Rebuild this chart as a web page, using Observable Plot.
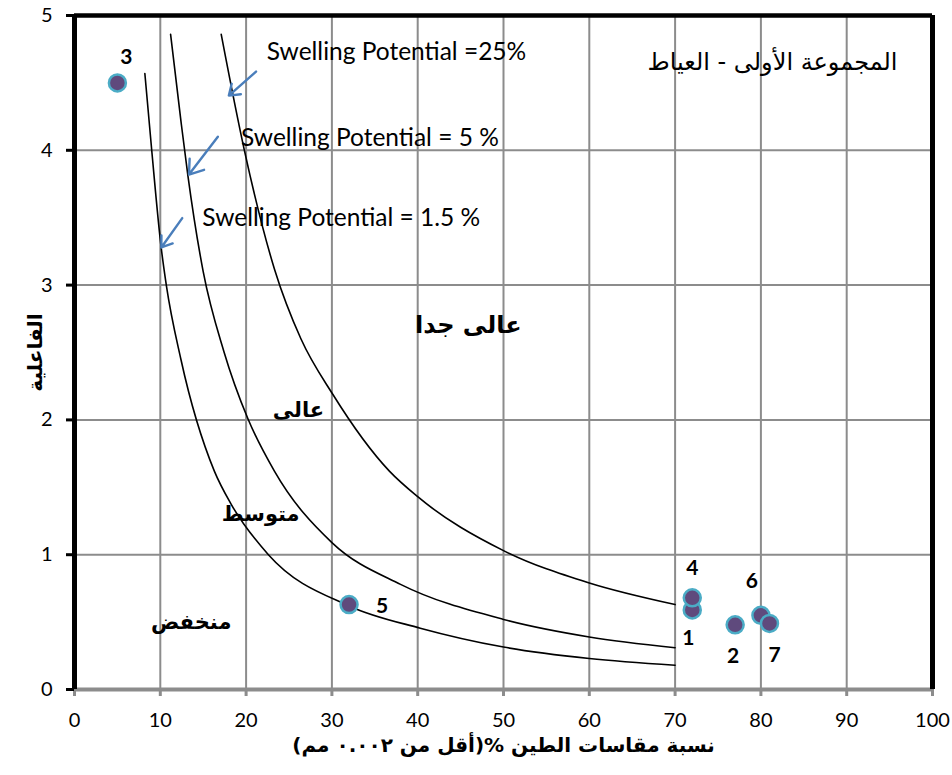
<!DOCTYPE html>
<html><head><meta charset="utf-8">
<script src="https://cdn.jsdelivr.net/npm/d3@7"></script>
<script src="https://cdn.jsdelivr.net/npm/@observablehq/plot@0.6"></script>
<style>body{margin:0;background:#fff} #chart{width:952px;height:775px}</style>
</head><body><div id="chart"></div>
<script>
// ---- data ----
const xTicks = [0,10,20,30,40,50,60,70,80,90,100];
const yTicks = [0,1,2,3,4,5];

// Swelling potential boundary curves (clay %, activity)
const sp25X = [17.1, 19.8, 23.3, 26.4, 30.1, 36.7, 40, 50, 60, 70];
const sp25Y = [4.86, 4.0, 3.12, 2.6, 2.19, 1.62, 1.43, 1.03, 0.79, 0.63];
const sp5X  = [11.2, 12.4, 13.2, 15.0, 17.4, 20.2, 23.3, 30, 38, 50, 60, 70];
const sp5Y  = [4.86, 4.22, 3.82, 3.1, 2.51, 2.01, 1.62, 1.09, 0.78, 0.52, 0.39, 0.31];
const sp15X = [8.2, 9.0, 10.1, 10.7, 12.4, 16.3, 18.3, 22.6, 32, 40.3, 50, 60, 70];
const sp15Y = [4.57, 4.0, 3.28, 3.0, 2.45, 1.62, 1.37, 1.0, 0.62, 0.455, 0.315, 0.23, 0.18];

// samples
const pointIds = ["1","2","3","4","5","6","7"];
const clayPct  = [72, 77, 5, 72, 32, 80, 81];
const activity = [0.59, 0.48, 4.5, 0.68, 0.63, 0.55, 0.49];

// annotations
const curveLabels = ["Swelling Potential =25%", "Swelling Potential = 5 %", "Swelling Potential = 1.5 %"];
const curveLabelX = [22.4, 19.4, 14.9];
const curveLabelY = [4.73, 4.09, 3.50];
const arrowX1 = [21.16, 16.71, 12.56];
const arrowY1 = [4.584, 4.10, 3.497];
const arrowX2 = [17.99, 13.34, 10.12];
const arrowY2 = [4.406, 3.82, 3.279];
const zoneNames = ["عالى جدا", "عالى", "متوسط", "منخفض"];
const zoneX = [45.9, 26.1, 21.7, 13.6];
const zoneY = [2.70, 2.07, 1.30, 0.50];
const titleText = "المجموعة الأولى - العياط";
const xTitle = "نسبة مقاسات الطين %(أقل من ٠.٠٠٢ مم)";
const yTitle = "الفاعلية";

// ---- build ----
const LAT = "Lato, Carlito, Calibri, sans-serif";
const AR = "'DejaVu Sans', sans-serif";
const curves = [["25", sp25X, sp25Y], ["5", sp5X, sp5Y], ["1.5", sp15X, sp15Y]];
const curveRows = curves.flatMap(([name, xs, ys]) => xs.map((x, i) => ({curve: name, x, y: ys[i]})));
const pts = pointIds.map((id, i) => ({id, x: clayPct[i], y: activity[i]}));
const labelOffset = {"1":[-4,28],"2":[-2,31],"3":[9,-26],"4":[0,-30],"5":[33,2],"6":[-9,-34],"7":[5,32]};
const idx3 = [0,1,2];

const chart = Plot.plot({
  width: 952, height: 775,
  marginLeft: 74, marginRight: 20, marginTop: 15, marginBottom: 86,
  style: {fontFamily: LAT, background: "#fff", color: "#000"},
  x: {domain: [0, 100]},
  y: {domain: [0, 5]},
  marks: [
    Plot.gridX(xTicks, {stroke: "#8c8c8c", strokeOpacity: 1, strokeWidth: 2}),
    Plot.gridY(yTicks, {stroke: "#8c8c8c", strokeOpacity: 1, strokeWidth: 2}),
    Plot.axisX(xTicks, {tickSize: 7, tickPadding: 16, stroke: "#8c8c8c", strokeWidth: 3, fontSize: 20, fill: "#000", label: null, tickFormat: d => String(d)}),
    Plot.axisY(yTicks, {tickSize: 8, tickPadding: 14, stroke: "#000", strokeWidth: 3, fontSize: 20, fill: "#000", label: null, tickFormat: d => String(d)}),
    Plot.ruleY([0], {stroke: "#8c8c8c", strokeWidth: 4}),
    Plot.ruleY([5], {stroke: "#000", strokeWidth: 4.5}),
    Plot.ruleX([0], {stroke: "#000", strokeWidth: 5}),
    Plot.ruleX([100], {stroke: "#000", strokeWidth: 5}),
    Plot.line(curveRows, {x: "x", y: "y", z: "curve", stroke: "#000", strokeWidth: 1.6, curve: "monotone-x"}),
    Plot.arrow(idx3, {x1: i => arrowX1[i], y1: i => arrowY1[i], x2: i => arrowX2[i], y2: i => arrowY2[i],
      stroke: "#4a7ebb", strokeWidth: 2.4, headLength: 13, headAngle: 70}),
    Plot.text(idx3, {x: i => curveLabelX[i], y: i => curveLabelY[i], text: i => curveLabels[i],
      textAnchor: "start", fontSize: 24.5, fill: "#000", fontFamily: LAT}),
    Plot.text(zoneNames, {x: (d, i) => zoneX[i], y: (d, i) => zoneY[i], text: d => d,
      fontSize: (d, i) => i === 0 ? 24 : 21, fontWeight: "bold", fill: "#000", fontFamily: AR}),
    Plot.dot(pts, {x: "x", y: "y", r: 8.5, fill: "#5f4a7d", stroke: "#4bacc6", strokeWidth: 2.5}),
    ...pts.map(p => Plot.text([p], {x: "x", y: "y", text: "id", dx: labelOffset[p.id][0], dy: labelOffset[p.id][1],
      fontSize: 21, fontWeight: "bold", fill: "#000", fontFamily: LAT})),
    Plot.text([titleText], {frameAnchor: "top-right", dx: -35, dy: 37, textAnchor: "end", fontSize: 24, fill: "#000", fontFamily: AR}),
    Plot.text([xTitle], {frameAnchor: "bottom", dy: 62, textAnchor: "middle", fontSize: 20, fontWeight: "bold", fill: "#000", fontFamily: AR, className: "rtl"}),
    Plot.text([yTitle], {frameAnchor: "left", dx: -39, rotate: -90, textAnchor: "middle", fontSize: 20, fontWeight: "bold", fill: "#000", fontFamily: AR})
  ]
});
d3.select(chart).selectAll(".rtl text").attr("direction", "rtl").attr("unicode-bidi", "embed");
document.getElementById("chart").appendChild(chart);
</script>
</body></html>
